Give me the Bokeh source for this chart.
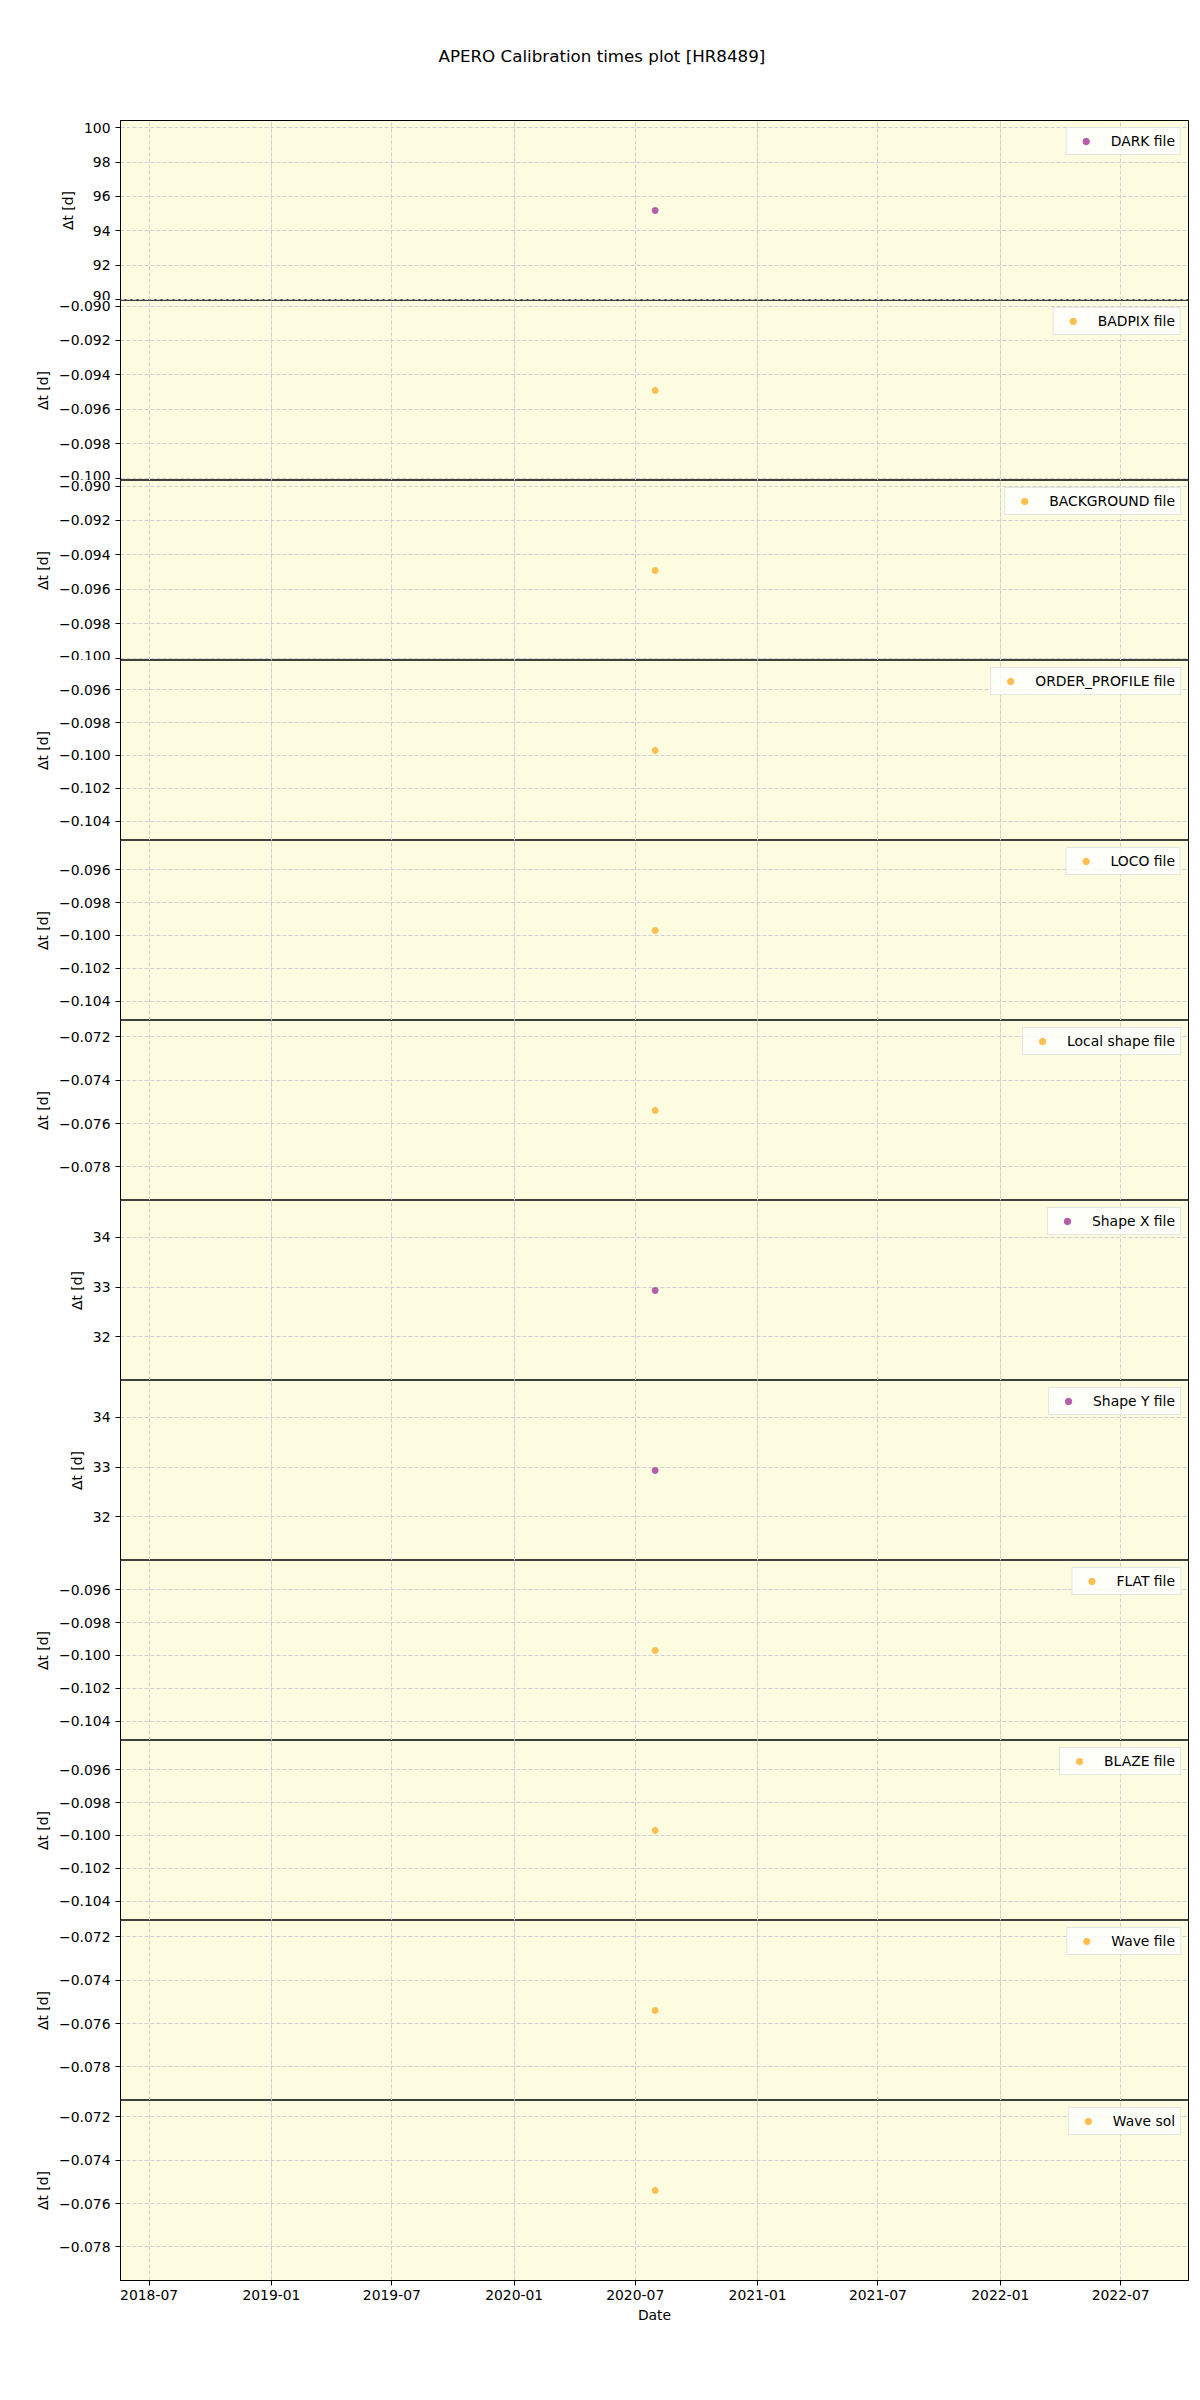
from datetime import datetime
from bokeh.plotting import figure
from bokeh.layouts import column
from bokeh.models import (Range1d, SingleIntervalTicker, MonthsTicker, Grid, LinearAxis,
                          DatetimeAxis, DatetimeTickFormatter, CustomJSTickFormatter)
from bokeh.embed import file_html
from bokeh.resources import INLINE

# ---------------- data ----------------
title_text = "APERO Calibration times plot [HR8489]"
cal_names = ["DARK file", "BADPIX file", "BACKGROUND file", "ORDER_PROFILE file",
             "LOCO file", "Local shape file", "Shape X file", "Shape Y file",
             "FLAT file", "BLAZE file", "Wave file", "Wave sol"]
obs_dates = ["2020-07-31"] * 12
dt_values = [95.18, -0.0949, -0.0949, -0.0997, -0.0997, -0.0754,
             32.93, 32.93, -0.0997, -0.0997, -0.0754, -0.0754]
y_tick_step = [2, 0.002, 0.002, 0.002, 0.002, 0.002, 1, 1, 0.002, 0.002, 0.002, 0.002]
y_tick_digits = [0, 3, 3, 3, 3, 3, 0, 0, 3, 3, 3, 3]
x_start = "2018-05-19"
x_end = "2022-10-11"
# --------------------------------------

FONT = "DejaVu Sans"
BG = "#fdfce0"
PURPLE = "#b45dab"
ORANGE = "#fdbf4f"
TXT = "black"

x_range = Range1d(start=datetime.fromisoformat(x_start), end=datetime.fromisoformat(x_end))


def bare_axis(axis, tick_out=0):
    axis.major_tick_in = 0
    axis.major_tick_out = tick_out
    axis.major_tick_line_color = None
    axis.minor_tick_in = 0
    axis.minor_tick_out = 0
    axis.major_label_text_font_size = "0px"
    axis.major_label_text_alpha = 0
    axis.major_label_standoff = 0
    axis.axis_line_color = "black"
    axis.axis_line_width = 1
    return axis


figs = []
n = len(cal_names)
for i in range(n):
    v = dt_values[i]
    half = 0.055 * abs(v)
    first = i == 0
    last = i == n - 1
    top = 120 if first else 0
    bottom = 62 if last else 0
    p = figure(width=1200, height=180 + top + bottom, x_range=x_range,
               y_range=Range1d(v - half, v + half),
               x_axis_location=None, toolbar_location=None,
               output_backend="svg", min_border_left=120, min_border_right=12,
               min_border_top=top, min_border_bottom=bottom)
    p.background_fill_color = BG
    p.border_fill_color = "white"
    p.outline_line_color = "black"
    p.outline_line_width = 1
    p.outline_line_alpha = 0.75

    yt = SingleIntervalTicker(interval=y_tick_step[i])
    p.yaxis.ticker = yt
    p.ygrid.ticker = yt
    p.yaxis.formatter = CustomJSTickFormatter(
        args=dict(d=y_tick_digits[i]),
        code="const s = Math.abs(tick).toFixed(d); return (tick < -1e-12 ? '\\u2212' : '') + s;")
    p.yaxis.axis_label = "\u0394t [d]"
    p.yaxis.axis_label_text_font = FONT
    p.yaxis.axis_label_text_font_size = "13.9px"
    p.yaxis.axis_label_text_font_style = "normal"
    p.yaxis.axis_label_text_color = TXT
    p.yaxis.axis_label_standoff = 5
    p.yaxis.major_label_text_font = FONT
    p.yaxis.major_label_text_font_size = "13.9px"
    p.yaxis.major_label_text_color = TXT
    p.yaxis.major_tick_in = 0
    p.yaxis.major_tick_out = 5
    p.yaxis.major_tick_line_color = "black"
    p.yaxis.minor_tick_out = 0
    p.yaxis.minor_tick_in = 0
    p.yaxis.major_label_standoff = 5
    p.yaxis.axis_line_color = "black"

    p.ygrid.grid_line_color = "#cfcfcf"
    p.ygrid.grid_line_dash = "4 2"
    p.ygrid.grid_line_width = 1

    xt = MonthsTicker(months=[0, 6])
    p.add_layout(Grid(dimension=0, ticker=xt, grid_line_color="#cfcfcf",
                      grid_line_dash="4 2", grid_line_width=1))

    # right spine
    p.add_layout(bare_axis(LinearAxis(ticker=yt)), "right")

    color = PURPLE if v > 0 else ORANGE
    p.scatter(x=[datetime.fromisoformat(obs_dates[i])], y=[v], size=6,
              fill_color=color, line_color=color, legend_label=cal_names[i])

    lg = p.legend[0]
    lg.location = "top_right"
    lg.margin = 7
    lg.padding = 5
    lg.spacing = 0
    lg.border_line_color = "#cccccc"
    lg.border_line_width = 1
    lg.background_fill_color = "white"
    lg.background_fill_alpha = 0.8
    lg.label_text_font = FONT
    lg.label_text_font_size = "13.9px"
    lg.label_text_color = TXT
    lg.glyph_width = 28
    lg.glyph_height = 16
    lg.label_height = 16
    lg.label_standoff = 11

    if first:
        # top spine; its invisible tick length lifts the title
        p.add_layout(bare_axis(LinearAxis(ticker=xt), tick_out=20), "above")
        p.title.text = title_text
        p.title.text_font = FONT
        p.title.text_font_size = "16.7px"
        p.title.text_font_style = "normal"
        p.title.text_color = TXT
        p.title.align = "left"
        p.title.offset = 318
        p.title.standoff = 70

    if last:
        xa = DatetimeAxis(ticker=xt, formatter=DatetimeTickFormatter(months="%Y-%m", years="%Y-%m", days="%Y-%m"))
        xa.axis_label = "Date"
        xa.axis_label_text_font = FONT
        xa.axis_label_text_font_size = "13.9px"
        xa.axis_label_text_font_style = "normal"
        xa.axis_label_text_color = TXT
        xa.axis_label_standoff = 4
        xa.major_label_text_font = FONT
        xa.major_label_text_font_size = "13.9px"
        xa.major_label_text_color = TXT
        xa.major_tick_in = 0
        xa.major_tick_out = 5
        xa.major_tick_line_color = "black"
        xa.axis_line_color = "black"
        xa.minor_tick_in = 0
        xa.minor_tick_out = 0
        xa.major_label_standoff = 4
        p.add_layout(xa, "below")

    figs.append(p)

layout = column(*figs, spacing=0)
open("out.html", "w").write(file_html(layout, INLINE))
